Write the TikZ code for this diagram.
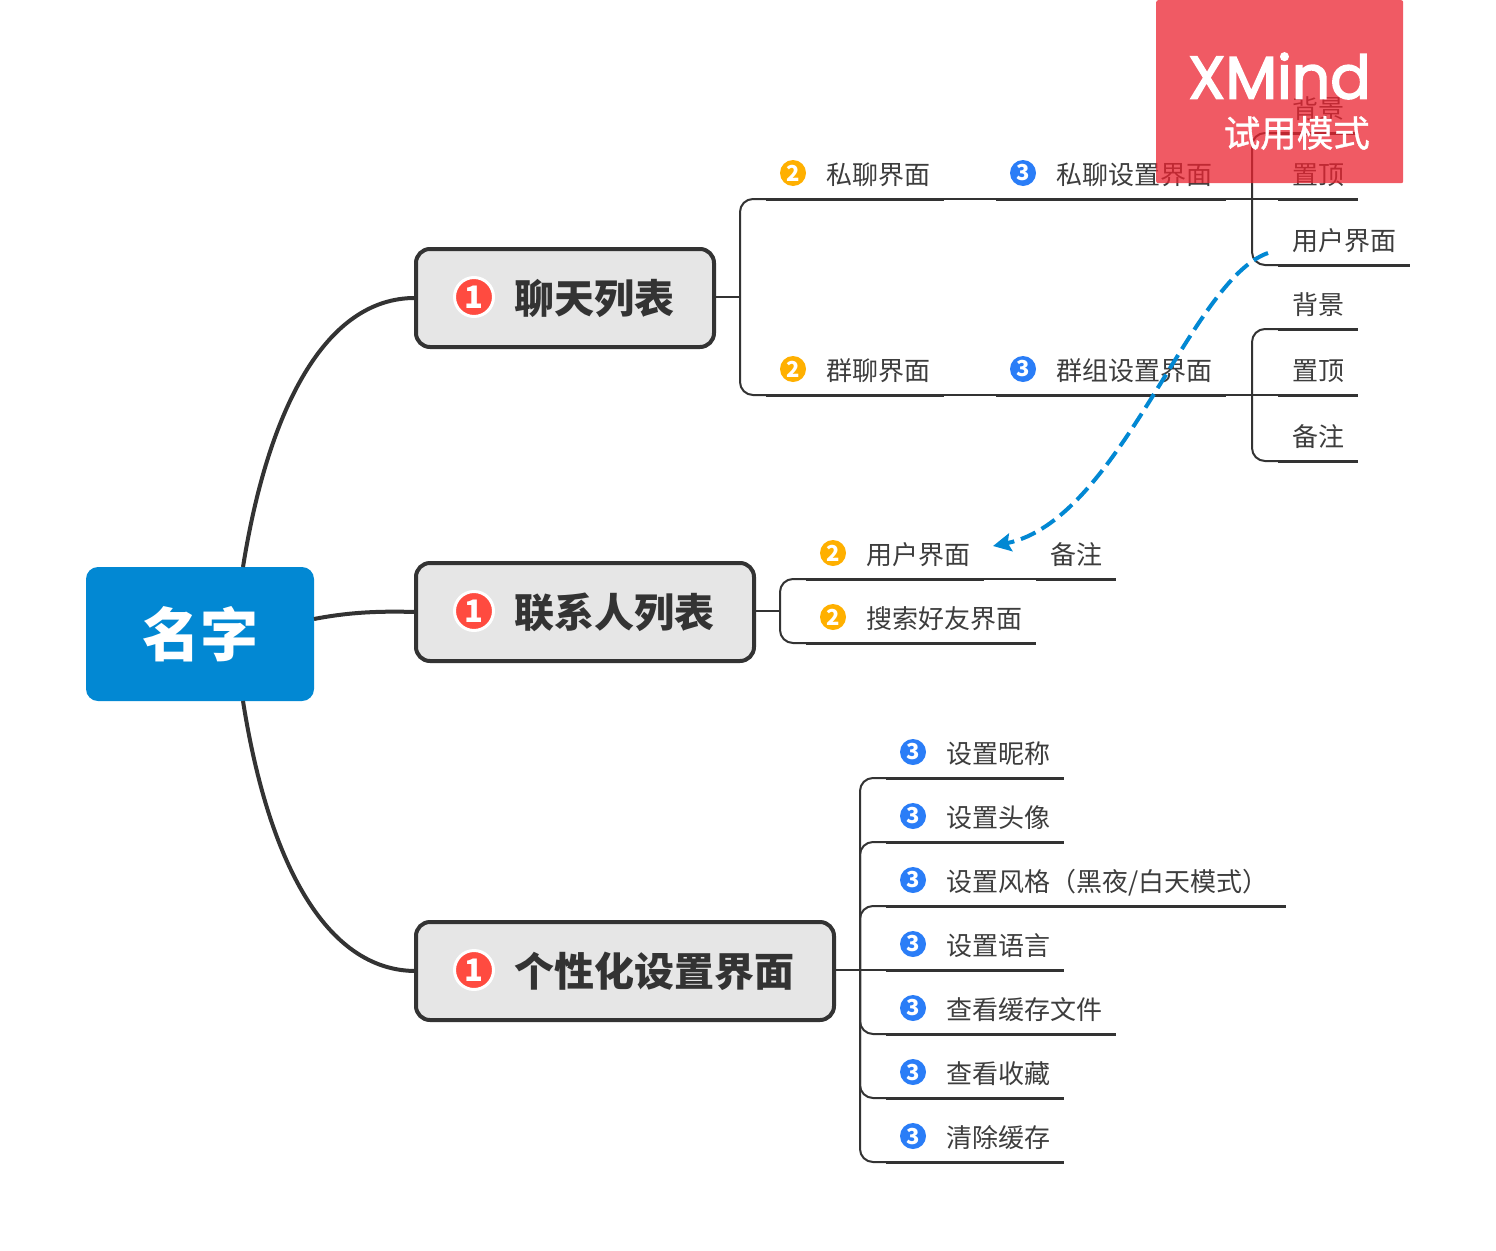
\documentclass[tikz,border=0pt]{standalone}
\usepackage{fontspec}
\setmainfont{Noto Sans CJK SC}
\newfontfamily\wmfont[RawFeature={embolden=2.6}]{Poppins}
\newfontfamily\wmcjk[RawFeature={embolden=1}]{Noto Sans CJK SC}
\usetikzlibrary{arrows.meta}
\definecolor{ink}{HTML}{333333}
\definecolor{rootblue}{HTML}{0288D3}
\definecolor{topicgrey}{HTML}{E6E6E6}
\definecolor{badgered}{HTML}{FF4B40}
\definecolor{badgeorange}{HTML}{FFB000}
\definecolor{badgeblue}{HTML}{2A7DF7}
\definecolor{trialred}{HTML}{EB2330}
\tikzset{
  rootbox/.style={fill=rootblue,rounded corners=12pt,minimum width=228pt,minimum height=134pt,
    inner sep=0pt,text=white,font=\fontsize{58}{58}\selectfont\bfseries},
  topicbox/.style={draw=ink,line width=4pt,outer sep=0pt,fill=topicgrey,rounded corners=14pt,minimum height=98pt,
    inner sep=0pt,anchor=west,text=ink,font=\fontsize{40}{40}\selectfont\bfseries},
  leafbox/.style={anchor=south west,inner sep=0pt,text height=30pt,text depth=14.5pt,align=left,
    text=ink!95,font=\fontsize{26}{26}\selectfont},
  badge/.style={circle,inner sep=0pt,minimum size=26pt,text=white,font=\fontsize{22}{22}\selectfont\bfseries},
  bigbadge/.style={circle,inner sep=0pt,minimum size=39pt,draw=white,line width=3pt,fill=badgered,
    text=white,font=\fontsize{31}{31}\selectfont\bfseries},
  curve/.style={draw=ink,line width=4pt},
  branch/.style={draw=ink,line width=2pt,rounded corners=13pt},
  underline/.style={draw=ink,line width=3pt},
  relation/.style={draw=rootblue,line width=4pt,dash pattern=on 16pt off 7pt,
    -{Stealth[length=18pt,width=18pt,inset=3pt]}},
  trial/.style={fill=trialred,fill opacity=0.75,rounded corners=2pt,minimum width=247pt,minimum height=183pt,inner sep=0pt},
}
\begin{document}
\begin{tikzpicture}[x=1pt,y=-1pt]
    \useasboundingbox (0,0) rectangle (1496,1250);

    % Central topic and main topics
    \node[rootbox] (root) at (200,634) {名字};
    \node[topicbox,minimum width=298pt] (chat) at (416,298) {\hspace*{98pt}聊天列表\hspace*{40pt}};
    \node[topicbox,minimum width=338pt] (contact) at (416,612) {\hspace*{98pt}联系人列表\hspace*{40pt}};
    \node[topicbox,minimum width=418pt] (custom) at (416,971) {\hspace*{98pt}个性化设置界面\hspace*{40pt}};
    \node[bigbadge] (chatmark) at (474,297) {1};
    \node[bigbadge] (contactmark) at (474,611) {1};
    \node[bigbadge] (custommark) at (474,970) {1};

    % Curves from the centre
    \coordinate (rootup) at (243,567);
    \coordinate (rootdown) at (243,701);
    \coordinate (rootright) at (314,619);
    \draw[curve] (rootup) .. controls (268,410) and (325,297) .. (chat.west);
    \draw[curve] (rootright) .. controls (350,612) and (380,611) .. (contact.west);
    \draw[curve] (rootdown) .. controls (268,860) and (325,971) .. (custom.west);

    % Leaves with a badge
    \foreach \nm/\x/\y/\w/\col/\num/\txt in {
        privchat/766/199/178/badgeorange/2/私聊界面,
        privset/996/199/230/badgeblue/3/私聊设置界面,
        groupchat/766/395/178/badgeorange/2/群聊界面,
        groupset/996/395/230/badgeblue/3/群组设置界面,
        userpage/806/579/178/badgeorange/2/用户界面,
        search/806/643/230/badgeorange/2/搜索好友界面,
        nick/886/778/178/badgeblue/3/设置昵称,
        avatar/886/842/178/badgeblue/3/设置头像,
        style/886/906/400/badgeblue/3/{设置风格（黑夜/白天模式）},
        lang/886/970/178/badgeblue/3/设置语言,
        cache/886/1034/230/badgeblue/3/查看缓存文件,
        fav/886/1098/178/badgeblue/3/查看收藏,
        clear/886/1162/178/badgeblue/3/清除缓存} {
        \node[leafbox,text width=\w pt] (\nm) at (\x,\y) {\hspace*{60pt}\txt};
        \node[badge,fill=\col] (\nm mark) at (\x+27,\y-26) {\num};
        \draw[underline] (\nm.south west) -- (\nm.south east);
    }

    % Leaves without a badge
    \foreach \nm/\x/\y/\w/\txt in {
        privbg/1278/133/80/背景,
        privtop/1278/199/80/置顶,
        privuser/1278/265/132/用户界面,
        groupbg/1278/329/80/背景,
        grouptop/1278/395/80/置顶,
        groupnote/1278/461/80/备注,
        usernote/1036/579/80/备注} {
        \node[leafbox,text width=\w pt] (\nm) at (\x,\y) {\hspace*{14pt}\txt};
        \draw[underline] (\nm.south west) -- (\nm.south east);
    }

    % Branches
    \coordinate (chatjoin) at (740,297);
    \coordinate (contactjoin) at (780,611);
    \coordinate (customjoin) at (860,970);
    \coordinate (privjoin) at (1252,199);
    \coordinate (groupjoin) at (1252,395);
    \draw[branch] (chat.east |- chatjoin) -- (chatjoin);
    \draw[branch] (privchat.south west) -| (chatjoin) |- (groupchat.south west);
    \draw[branch] (privchat.south east) -- (privset.south west);
    \draw[branch] (groupchat.south east) -- (groupset.south west);
    \draw[branch] (privset.south east) -- (privtop.south west);
    \draw[branch] (groupset.south east) -- (grouptop.south west);
    \draw[branch] (privbg.south west) -| (privjoin) |- (privuser.south west);
    \draw[branch] (groupbg.south west) -| (groupjoin) |- (groupnote.south west);
    \draw[branch] (contact.east |- contactjoin) -- (contactjoin);
    \draw[branch] (userpage.south west) -| (contactjoin) |- (search.south west);
    \draw[branch] (userpage.south east) -- (usernote.south west);
    \draw[branch] (custom.east |- customjoin) -- (lang.south west);
    \foreach \nm in {nick,avatar,style,cache,fav,clear}
        \draw[branch] (customjoin) |- (\nm.south west);

    % Relation arrow
    \coordinate (relstart) at (1268,253);
    \coordinate (relend) at (993,546);
    \draw[relation] (relstart) .. controls (1190,280) and (1120,520) .. (relend);

    % Trial stamp
    \node[trial,anchor=north west] (stamp) at (1156,0) {};
    \node[anchor=east,inner sep=0pt,text=white,font=\wmfont\fontsize{60}{60}\selectfont] (stampname) at (1371,76) {XMind};
    \node[anchor=east,inner sep=0pt,text=white,font=\wmcjk\fontsize{36.5}{36.5}\selectfont] (stampmode) at (1370,133) {试用模式};
\end{tikzpicture}
\end{document}
